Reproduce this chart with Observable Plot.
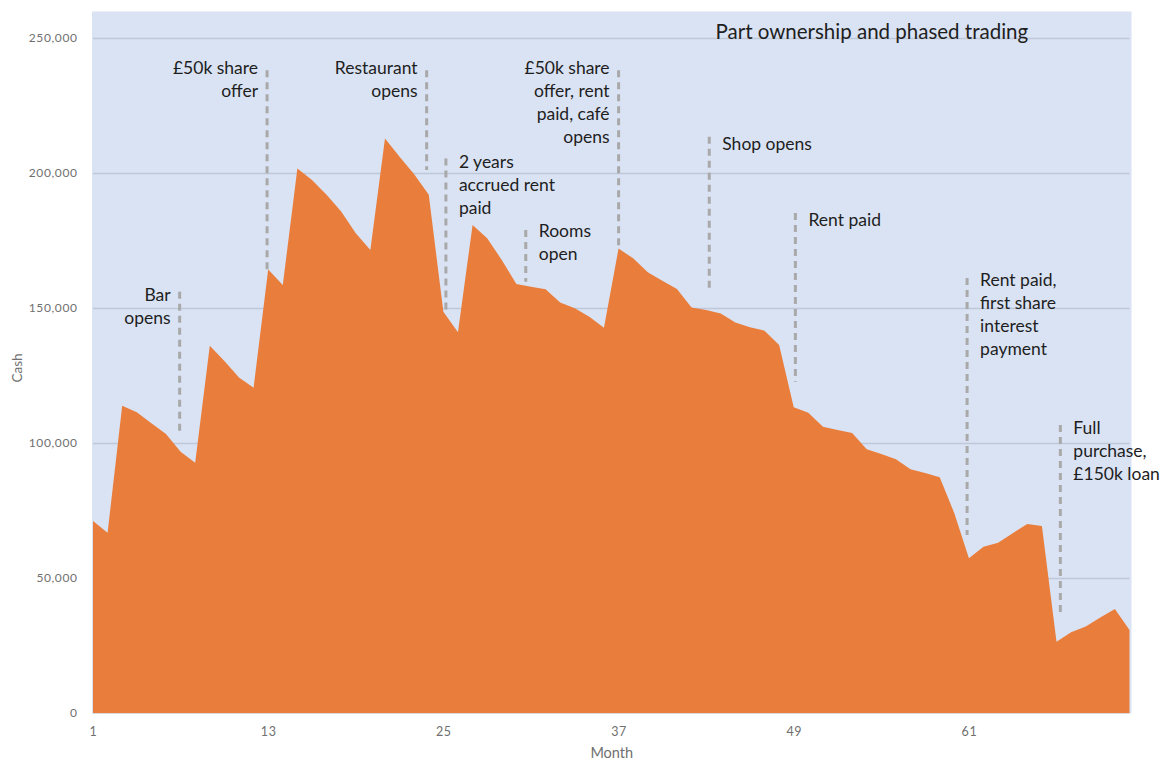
<!DOCTYPE html>
<html>
<head>
<meta charset="utf-8">
<script src="https://cdn.jsdelivr.net/npm/d3@7"></script>
<script src="https://cdn.jsdelivr.net/npm/@observablehq/plot@0.6"></script>
<style>
  html, body { margin: 0; padding: 0; background: #ffffff; }
  #chart svg { display: block; }
  #chart g[aria-label="y-axis tick label"] text,
  #chart g[aria-label="x-axis tick label"] text { letter-spacing: 0.6px; }
</style>
</head>
<body>
<div id="chart"></div>
<script>
// Monthly cash position over six years of part ownership and phased trading
const months = d3.range(1, 73);
const cash = [
  71100, 66800, 113800, 111400, 107300, 103300, 96800, 92700, 136000, 130400, 124300, 120500,
  164300, 158500, 201700, 197400, 191900, 185700, 177700, 171500, 212800, 206000, 199500, 191900,
  148600, 141000, 180700, 175800, 167800, 158900, 157900, 156900, 152000, 149900, 146800, 142700,
  172000, 168400, 163200, 160100, 157000, 150200, 149300, 148000, 144600, 142900, 141600, 136300,
  113200, 111200, 106000, 104800, 103700, 97700, 95900, 94000, 90300, 88900, 87300, 74000,
  57300, 61600, 63100, 66600, 70000, 69300, 26400, 29900, 32000, 35400, 38500, 30700
];

// Key events: month, extent of the marker line (cash) and where the note starts (cash)
const notesBefore = [
  {month: 6.9, top: 156000, bottom: 103600, labelAt: 154200, label: "Bar\nopens"},
  {month: 12.89, top: 238100, bottom: 163400, labelAt: 238500, label: "£50k share\noffer"},
  {month: 23.82, top: 238100, bottom: 201100, labelAt: 238500, label: "Restaurant\nopens"},
  {month: 36.97, top: 238100, bottom: 172000, labelAt: 238500, label: "£50k share\noffer, rent\npaid, café\nopens"}
];
const notesAfter = [
  {month: 25.14, top: 205400, bottom: 149300, labelAt: 203600, label: "2 years\naccrued rent\npaid"},
  {month: 30.61, top: 178900, bottom: 159700, labelAt: 177900, label: "Rooms\nopen"},
  {month: 43.18, top: 213400, bottom: 156700, labelAt: 210400, label: "Shop opens"},
  {month: 49.08, top: 185200, bottom: 122700, labelAt: 182000, label: "Rent paid"},
  {month: 60.84, top: 161100, bottom: 65900, labelAt: 159700, label: "Rent paid,\nfirst share\ninterest\npayment"},
  {month: 67.23, top: 106700, bottom: 36300, labelAt: 105100, label: "Full\npurchase,\n£150k loan"}
];

const xTicks = [1, 13, 25, 37, 49, 61];
const yTicks = [0, 50000, 100000, 150000, 200000, 250000];
const title = "Part ownership and phased trading";

const series = months.map((m, i) => ({month: m, cash: cash[i]}));
const events = notesBefore.concat(notesAfter);

const noteStyle = {
  x: "month", y: "labelAt", text: "label",
  lineAnchor: "top", lineHeight: 1.315, dy: -12.2,
  fontSize: 17.5, fill: "#1e1e1e"
};

const chart = Plot.plot({
  width: 1161,
  height: 765,
  marginLeft: 93,
  marginRight: 31.5,
  marginTop: 11,
  marginBottom: 52,
  x: {domain: [1, 72]},
  y: {domain: [0, 260000]},
  style: {fontFamily: "Lato, 'Open Sans', sans-serif", background: "#ffffff", overflow: "visible"},
  marks: [
    Plot.frame({fill: "#dae3f3", stroke: "none", insetLeft: -1.5, insetRight: -1.5}),
    Plot.gridY(yTicks.filter(d => d > 0), {stroke: "#bfc8d8", strokeOpacity: 1, strokeWidth: 1.4}),
    Plot.areaY(series, {x: "month", y: "cash", fill: "#e97d3c"}),
    Plot.ruleY([0], {stroke: "#d9d9d9", strokeWidth: 1}),
    Plot.ruleX(events, {
      x: "month", y1: "top", y2: "bottom",
      stroke: "#a9a9a9", strokeWidth: 3, strokeDasharray: "7,5"
    }),
    Plot.text(notesBefore, {...noteStyle, textAnchor: "end", dx: -9}),
    Plot.text(notesAfter, {...noteStyle, textAnchor: "start", dx: 13}),
    Plot.text([title], {
      frameAnchor: "top-left", textAnchor: "start", lineAnchor: "middle",
      dx: 622, dy: 20.5, fontSize: 20.5, fill: "#1e1e1e"
    }),
    Plot.axisY({
      ticks: yTicks, tickSize: 0, tickPadding: 16, tickFormat: d3.format(","),
      fontSize: 12, color: "#707070", label: null
    }),
    Plot.axisX({
      ticks: xTicks, tickSize: 0, tickPadding: 14, tickFormat: d => String(d),
      fontSize: 12.5, color: "#707070", label: null
    }),
    Plot.text(["Month"], {frameAnchor: "bottom", dy: 44, fontSize: 14.5, fill: "#707070"}),
    Plot.text(["Cash"], {frameAnchor: "left", dx: -76, dy: 20, rotate: -90, fontSize: 13.5, fill: "#707070"})
  ]
});

document.getElementById("chart").appendChild(chart);
</script>
</body>
</html>
